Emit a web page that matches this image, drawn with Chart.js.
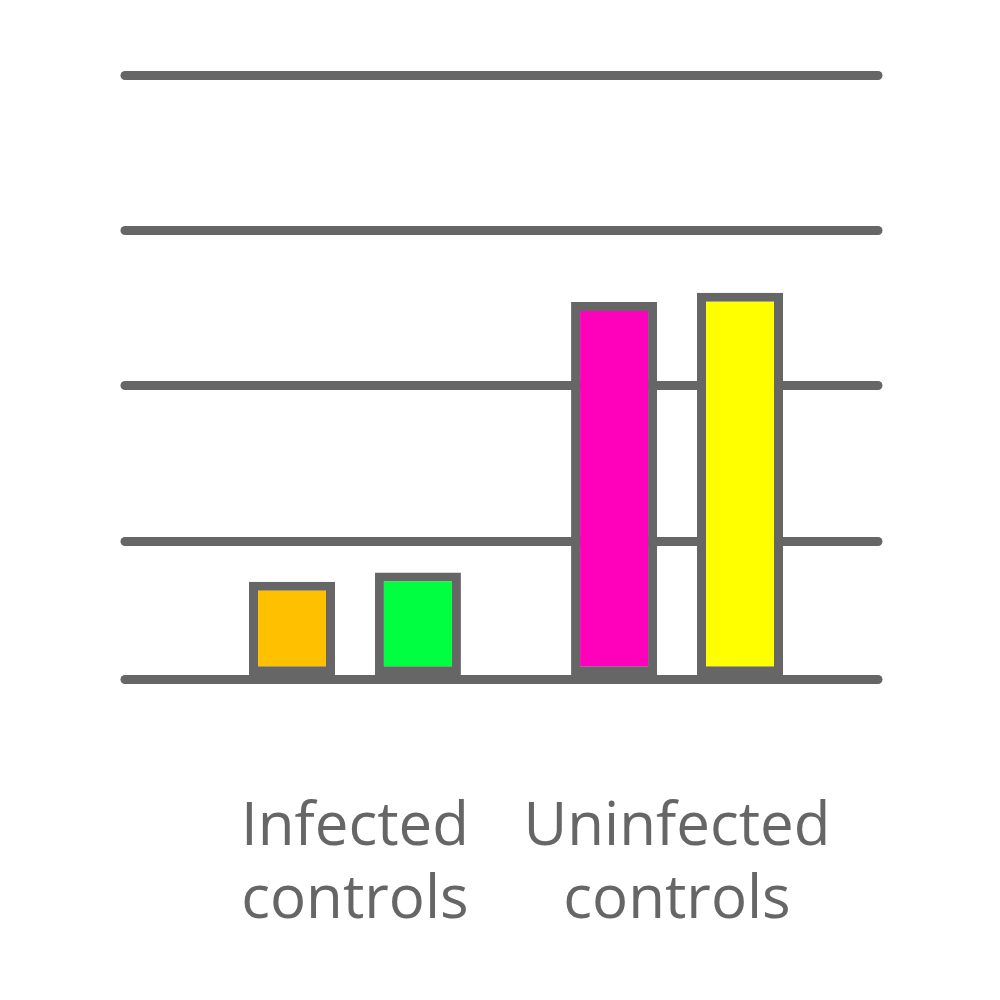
<!DOCTYPE html>
<html>
<head>
<meta charset="utf-8">
<script src="https://cdn.jsdelivr.net/npm/chart.js@4"></script>
<style>
  html, body { margin: 0; padding: 0; background: #fff; }
  #wrap { width: 1000px; height: 1000px; }
</style>
</head>
<body>
<div id="wrap"><canvas id="chart"></canvas></div>
<script>
// categories and values
const categories = ["Infected controls", "Uninfected controls"];
const firstBars = [7.4, 25.4];
const secondBars = [8.0, 26.0];
const firstColors = ["#ffc000", "#ff00bb"];
const secondColors = ["#00ff40", "#ffff00"];
const yTicks = [10, 20, 30, 40];

const GRAY = "#666666";

// round ends on the grid lines
const roundCaps = {
  id: "roundCaps",
  beforeDraw(chart) {
    chart.ctx.lineCap = "round";
  }
};

const toPoints = (vals) => vals.map((v, i) => ({ x: i + 1, y: v }));

new Chart(document.getElementById("chart"), {
  type: "bar",
  data: {
    datasets: [
      {
        data: toPoints(firstBars),
        backgroundColor: firstColors,
        borderColor: GRAY,
        borderWidth: 9,
        borderSkipped: false,
        base: 1.1
      },
      {
        data: toPoints(secondBars),
        backgroundColor: secondColors,
        borderColor: GRAY,
        borderWidth: 9,
        borderSkipped: false,
        base: 1.1
      }
    ]
  },
  options: {
    responsive: true,
    maintainAspectRatio: false,
    animation: false,
    categoryPercentage: 0.782,
    barPercentage: 0.683,
    layout: {
      padding: { top: 75, left: 125, right: 122, bottom: 63 }
    },
    plugins: {
      legend: { display: false },
      tooltip: { enabled: false }
    },
    scales: {
      x: {
        type: "linear",
        offset: false,
        min: 0.286,
        max: 2.624,
        // invisible tick marks push the labels down
        grid: {
          display: true,
          drawOnChartArea: false,
          drawTicks: true,
          tickLength: 112,
          tickColor: "rgba(0,0,0,0)",
          color: "rgba(0,0,0,0)"
        },
        border: { display: false },
        afterBuildTicks: (scale) => {
          scale.ticks = categories.map((c, i) => ({ value: i + 1 }));
        },
        ticks: {
          padding: 0,
          maxRotation: 0,
          autoSkip: false,
          color: GRAY,
          font: { family: "'Open Sans'", size: 60, lineHeight: 1.21 },
          callback: (value) => categories[value - 1].split(" ")
        }
      },
      y: {
        min: 1.1,
        max: 40,
        afterBuildTicks: (scale) => {
          scale.ticks = [scale.min].concat(yTicks).map((v) => ({ value: v }));
        },
        grid: { color: GRAY, lineWidth: 9, drawTicks: false },
        border: { display: false },
        ticks: { display: false }
      }
    }
  },
  plugins: [roundCaps]
});
</script>
</body>
</html>
